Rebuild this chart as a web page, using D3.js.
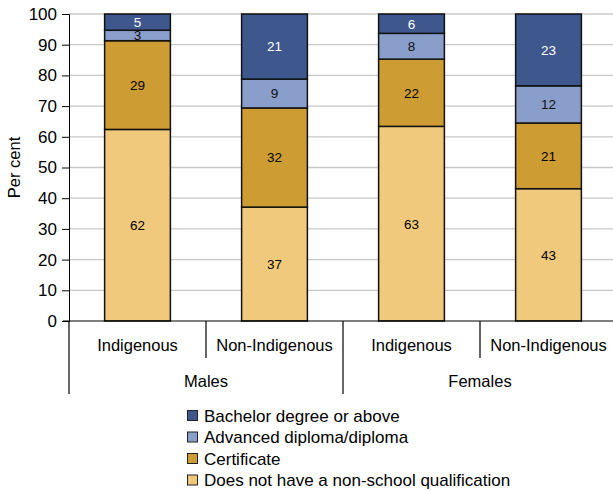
<!DOCTYPE html>
<html>
<head>
<meta charset="utf-8">
<script src="https://cdn.jsdelivr.net/npm/d3@7"></script>
<style>
  body { margin: 0; background: #fff; }
  text { font-family: "Liberation Sans", Arial, sans-serif; }
</style>
</head>
<body>
<div id="chart"></div>
<script>
// categories
const groups = ["Males", "Females"];
const subgroups = ["Indigenous", "Non-Indigenous"];
const series = ["Does not have a non-school qualification", "Certificate", "Advanced diploma/diploma", "Bachelor degree or above"];
const colors = ["#F0C97D", "#CD9C33", "#8A9ECB", "#3E578C"];
const labelColors = ["#000", "#000", "#111", "#fff"];

// values per bar (Males Ind, Males Non-Ind, Females Ind, Females Non-Ind)
const noQual = [62.4, 37.1, 63.4, 43.1];
const certificate = [28.9, 32.3, 21.9, 21.4];
const diploma = [3.4, 9.4, 8.4, 12.1];
const bachelor = [5.3, 21.2, 6.3, 23.4];
const yTicks = [0, 10, 20, 30, 40, 50, 60, 70, 80, 90, 100];

const W = 613, H = 491;
const margin = { top: 14, left: 69, right: -4 };
const plotH = 321 - margin.top;
const plotW = W - margin.left - margin.right;

const svg = d3.select("#chart").append("svg")
  .attr("width", W).attr("height", H);

const bars = [];
groups.forEach((g, gi) => subgroups.forEach((s, si) => {
  const i = gi * 2 + si;
  bars.push({ key: g + "|" + s, group: g, sub: s,
    vals: [noQual[i], certificate[i], diploma[i], bachelor[i]] });
}));

const x = d3.scaleBand().domain(bars.map(d => d.key))
  .range([margin.left, margin.left + plotW]).paddingInner(0.52).paddingOuter(0.26);
const y = d3.scaleLinear().domain([0, 100]).range([margin.top + plotH, margin.top]);

// gridlines
svg.append("g").selectAll("line").data(yTicks.slice(1)).enter().append("line")
  .attr("x1", margin.left).attr("x2", W)
  .attr("y1", d => y(d)).attr("y2", d => y(d))
  .attr("stroke", "#c8c8c8").attr("stroke-width", 1.3);

// y axis
const yAxis = svg.append("g")
  .attr("transform", `translate(${margin.left},0)`)
  .call(d3.axisLeft(y).tickValues(yTicks).tickSize(7).tickPadding(5));
yAxis.select(".domain").attr("stroke", "#000");
yAxis.selectAll("line").attr("stroke", "#000");
yAxis.selectAll("text").style("font-size", "17px").attr("fill", "#000")
  .style("font-family", "'Liberation Sans', Arial, sans-serif");

svg.append("text")
  .attr("transform", `translate(20,${y(50)}) rotate(-90)`)
  .attr("text-anchor", "middle")
  .style("font-size", "16.5px")
  .text("Per cent");

// stacked bars
bars.forEach(b => {
  let base = 0;
  b.vals.forEach((v, k) => {
    const y0 = base, y1 = base + v;
    base = y1;
    svg.append("rect")
      .attr("x", x(b.key)).attr("width", x.bandwidth())
      .attr("y", y(y1)).attr("height", y(y0) - y(y1))
      .attr("fill", colors[k]).attr("stroke", "#111").attr("stroke-width", 1.5);
    svg.append("text")
      .attr("x", x(b.key) + x.bandwidth() / 2)
      .attr("y", (y(y0) + y(y1)) / 2)
      .attr("dy", "0.36em")
      .attr("text-anchor", "middle")
      .style("font-size", "13.5px")
      .attr("fill", labelColors[k])
      .text(Math.round(v));
  });
});

// x axis with grouped categories
const axisY = y(0);
const step = x.step();
const left = margin.left;
svg.append("line").attr("x1", left - 6).attr("x2", W)
  .attr("y1", axisY).attr("y2", axisY).attr("stroke", "#000").attr("stroke-width", 1.2);

bars.forEach((b, i) => {
  const cx = x(b.key) + x.bandwidth() / 2;
  svg.append("text").attr("x", cx).attr("y", axisY + 30)
    .attr("text-anchor", "middle").style("font-size", "16.5px").text(b.sub);
  if (i % 2 === 1) return;
  // separator inside group
  svg.append("line")
    .attr("x1", cx + step / 2).attr("x2", cx + step / 2)
    .attr("y1", axisY).attr("y2", axisY + 37)
    .attr("stroke", "#000").attr("stroke-width", 1.2);
});

groups.forEach((g, gi) => {
  const gx0 = left + gi * 2 * step;
  svg.append("line").attr("x1", gx0).attr("x2", gx0)
    .attr("y1", axisY).attr("y2", axisY + 73)
    .attr("stroke", "#000").attr("stroke-width", 1.2);
  svg.append("text").attr("x", gx0 + step).attr("y", axisY + 66)
    .attr("text-anchor", "middle").style("font-size", "16.5px").text(g);
});

// legend
const legendOrder = [3, 2, 1, 0];
const legend = svg.append("g").attr("transform", "translate(187,410)");
legendOrder.forEach((k, r) => {
  const row = legend.append("g").attr("transform", `translate(0,${r * 21.5})`);
  row.append("rect").attr("x", 0.5).attr("y", 0.5).attr("width", 10).attr("height", 10)
    .attr("fill", colors[k]).attr("stroke", "#222").attr("stroke-width", 1);
  row.append("text").attr("x", 17).attr("y", 5.5).attr("dy", "0.36em")
    .style("font-size", "17px").text(series[k]);
});
</script>
</body>
</html>
